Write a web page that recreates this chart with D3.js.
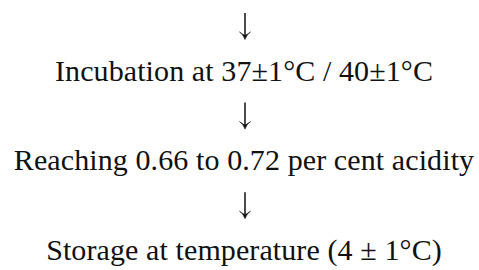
<!DOCTYPE html>
<html lang="en">
<head>
<meta charset="UTF-8">
<title>Process steps</title>
<script src="https://cdn.jsdelivr.net/npm/d3@7"></script>
<style>
	body { margin: 0; background: #fff; }
	.step { font-family: "Liberation Serif", serif; fill: #111; }
	.arrow { stroke: #111; stroke-width: 1.5; fill: none; }
	.head { fill: #111; stroke: #111; stroke-width: 0.6; stroke-linejoin: round; }
</style>
</head>
<body>
<script>
	var width = 479, height = 270;

	// flow: an arrow precedes every step
	var steps = [
		'Incubation at 37\u00b11\u00b0C / 40\u00b11\u00b0C',
		'Reaching 0.66 to 0.72 per cent acidity',
		'Storage at temperature (4 \u00b1 1\u00b0C)'
	];

	var rows = [];
	steps.forEach(function (s, i) {
		rows.push({type: 'arrow', id: 'a' + i});
		rows.push({type: 'step', id: 's' + i, label: s});
	});

	var svg = d3.select('body').append('svg')
		.attr('width', width)
		.attr('height', height);

	var y = d3.scalePoint()
		.domain(rows.map(function (d) { return d.id; }))
		.range([26, 250]);

	var cx = 244;

	svg.selectAll('.step')
		.data(rows.filter(function (d) { return d.type === 'step'; }))
		.enter()
		.append('text')
		.attr('class', 'step')
		.attr('x', cx)
		.attr('y', function (d) { return y(d.id) + 10; })
		.attr('text-anchor', 'middle')
		.style('font-size', '30px')
		.style('letter-spacing', '0.1px')
		.text(function (d) { return d.label; });

	var arrows = svg.selectAll('.arr')
		.data(rows.filter(function (d) { return d.type === 'arrow'; }))
		.enter()
		.append('g')
		.attr('transform', function (d) { return 'translate(' + (cx + 1) + ',' + y(d.id) + ')'; });

	arrows.append('path')
		.attr('class', 'arrow')
		.attr('d', 'M0,-13V10');

	arrows.append('path')
		.attr('class', 'head')
		.attr('d', 'M-5.5,6Q-2,8 0,13.5Q2,8 5.5,6Q2,8.5 0,9.5Q-2,8.5 -5.5,6Z');
</script>
</body>
</html>
